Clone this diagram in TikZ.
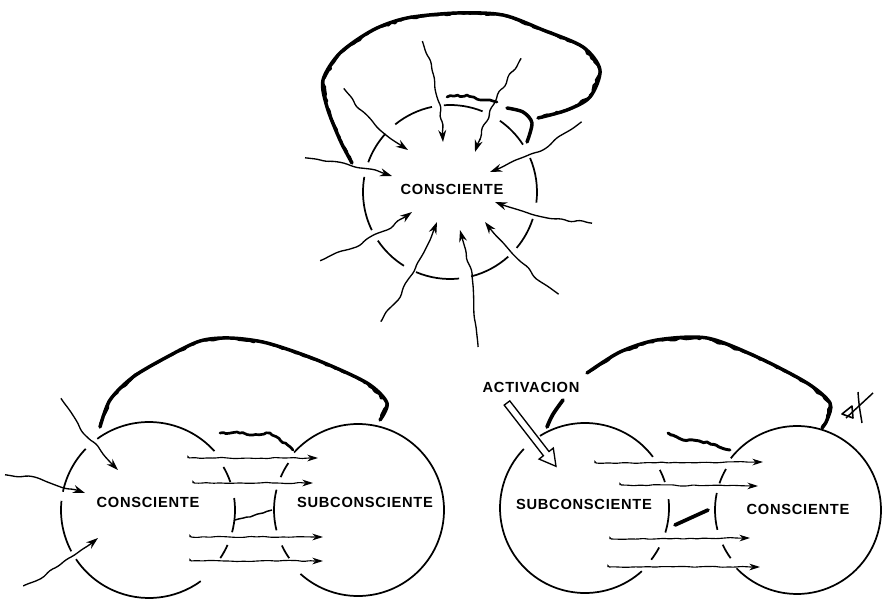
\documentclass[tikz,border=0pt]{standalone}
\usepackage{fontspec}
\setmainfont{Liberation Sans}
\newfontfamily\lblfont[LetterSpace=5]{Liberation Sans}
\usetikzlibrary{arrows.meta,decorations.pathmorphing}

\begin{document}
\begin{tikzpicture}[x=0.75pt,y=0.75pt,yscale=-1,xscale=1,
    lbl/.style={font=\lblfont\bfseries\fontsize{11}{13}\selectfont, inner sep=0pt},
    wavy/.style={line width=1pt, rounded corners=2.5pt, decorate, decoration={random steps, segment length=7pt, amplitude=1.7pt, pre length=1pt, post length=8pt}, -{Stealth[length=9pt,width=6pt]}},
    hline/.style={line width=0.85pt, rounded corners=1pt, decorate, decoration={random steps, segment length=5pt, amplitude=0.45pt, post length=7pt}, -{Stealth[length=8pt,width=5pt]}},
    rope/.style={line width=2.6pt, line cap=round, line join=round},
    rough/.style={line width=1.6pt, line cap=round, line join=round, decorate, decoration={random steps, segment length=2.5pt, amplitude=0.8pt}},
    rim/.style={line width=1.3pt}]
    \pgfmathsetseed{17}
    \useasboundingbox (0,0) rectangle (882,603);

    %centres of the rings
    \coordinate (top) at (450,192);
    \coordinate (lc) at (149,510);
    \coordinate (ls) at (358,510);
    \coordinate (rs) at (585,508);
    \coordinate (rc) at (797,510);

    %Shape: broken ring, top
    \foreach \a/\b in {18/40, 48/76, 84/113, 122/146, 154/190, 200/222, 231/258, 266/292, 305/327, 337/367}
        \draw [rim] (top) ++(\a:87) arc [start angle=\a, end angle=\b, radius=87];
    %Shape: broken rings, bottom left
    \foreach \a/\b in {54/146, 152/186, 192/224, 234/318}
        \draw [rim] (lc) ++(\a:88) arc [start angle=\a, end angle=\b, radius=88];
    \foreach \a/\b in {330/341, 352/375, 24/34}
        \draw [rim] (lc) ++(\a:86) arc [start angle=\a, end angle=\b, radius=86];
    \draw [rim] (ls) ++(222:86) arc [start angle=222, end angle=492, radius=86];
    \foreach \a/\b in {203/214, 166/194, 145/155}
        \draw [rim] (ls) ++(\a:84) arc [start angle=\a, end angle=\b, radius=84];
    %Shape: broken rings, bottom right
    \foreach \a/\b in {48/224, 238/323}
        \draw [rim] (rs) ++(\a:85) arc [start angle=\a, end angle=\b, radius=85];
    \foreach \a/\b in {333/342, 354/377, 28/38}
        \draw [rim] (rs) ++(\a:84) arc [start angle=\a, end angle=\b, radius=84];
    \draw [rim] (rc) ++(218:84) arc [start angle=218, end angle=496, radius=84];
    \foreach \a/\b in {199/210, 166/192, 144/155}
        \draw [rim] (rc) ++(\a:82) arc [start angle=\a, end angle=\b, radius=82];

    % Text Node
    \node [lbl] (tc) at (452,189) {CONSCIENTE};
    \node [lbl] (blc) at (148,502) {CONSCIENTE};
    \node [lbl] (bls) at (365,502) {SUBCONSCIENTE};
    \node [lbl] (brs) at (584,504) {SUBCONSCIENTE};
    \node [lbl] (brc) at (798,509) {CONSCIENTE};
    \node [lbl] (act) at (531,387) {ACTIVACION};

    %Thick loops
    \draw [rope] plot [smooth] coordinates {(352,163) (340,140) (327,107) (323,80) (340,53) (373,30) (407,18) (457,13) (503,15) (543,30) (583,47) (600,70) (590,97) (567,110) (538,118)};
    \draw [rough] (352,163) -- (340,140) -- (327,107) -- (323,80) -- (340,53) -- (373,30) -- (407,18) -- (457,13) -- (503,15) -- (543,30) -- (583,47) -- (600,70) -- (590,97) -- (567,110) -- (538,118);
    \draw [rough, line width=2pt] (447,97) -- (467,95) -- (483,100) -- (497,102);
    \draw [rope] plot [smooth] coordinates {(507,108) (523,112) (532,123) (527,142)};
    \draw [rope] plot [smooth] coordinates {(100,427) (110,400) (133,377) (167,357) (200,341) (230,338) (267,343) (317,360) (367,383) (387,403) (380,420)};
    \draw [rough] (100,427) -- (110,400) -- (133,377) -- (167,357) -- (200,341) -- (230,338) -- (267,343) -- (317,360) -- (367,383) -- (387,403) -- (380,420);
    \draw [rope] plot [smooth] coordinates {(587,373) (620,352) (657,340) (707,338) (757,357) (807,383) (830,403) (827,420) (822,428)};
    \draw [rough] (587,373) -- (620,352) -- (657,340) -- (707,338) -- (757,357) -- (807,383) -- (830,403) -- (827,420) -- (822,428);
    \draw [rough, line width=2pt] (220,433) -- (237,432) -- (253,435) -- (270,433) -- (280,440) -- (293,450);
    \draw [rough, line width=2.2pt] (668,433) -- (683,440) -- (707,442) -- (730,450);
    \draw [line width=2.8pt, line cap=round] (675,525) -- (708,510);
    \draw [line width=2.8pt, line cap=round] (547,427) .. controls (552,415) .. (563,400);

    %Neck lines, bottom left
    \draw [line width=1.1pt, decorate, decoration={random steps, segment length=3pt, amplitude=0.5pt}] (235,520) -- (250,517) -- (263,513) -- (272,510);

    %Arrows into the top ring
    \draw [wavy] (345,90) to [bend left=10] (408,150);
    \draw [wavy] (423,43) to [bend right=8] (443,142);
    \draw [wavy] (520,60) to [bend left=8] (475,152);
    \draw [wavy] (580,123) to [bend right=8] (490,172);
    \draw [wavy] (307,158) to [bend right=6] (392,176);
    \draw [wavy] (590,223) to [bend right=8] (495,202);
    \draw [wavy] (322,260) to [bend left=8] (412,212);
    \draw [wavy] (382,320) to [bend left=8] (437,222);
    \draw [wavy] (478,345) to [bend left=6] (460,230);
    \draw [wavy] (557,293) to [bend right=8] (485,222);

    %Arrows into the bottom left ring
    \draw [wavy] (62,400) to [bend left=6] (118,470);
    \draw [wavy] (7,475) to [bend right=6] (85,493);
    \draw [wavy] (25,585) to [bend left=6] (98,538);

    %Straight Lines across the necks
    \draw [hline] (188,458) -- (318,458);
    \draw [hline] (193,483) -- (313,483);
    \draw [hline] (190,537) -- (323,537);
    \draw [hline] (190,561) -- (323,561);
    \draw [hline] (595,463) -- (763,462);
    \draw [hline] (620,485) -- (758,486);
    \draw [hline] (610,539) -- (750,538);
    \draw [hline] (608,567) -- (760,567);

    %Hollow arrow
    \draw [fill=white, line width=1pt, line join=miter] (504.2,405.1) -- (509.8,400.9) -- (549.0,451.5) -- (553.3,448.1) -- (556,466.3) -- (539.1,459.1) -- (543.4,455.7) -- cycle;

    %Scribble
    \draw [line width=1.1pt] (846,418) -- (873,393);
    \draw [line width=1.2pt, line join=round] (842,414) -- (852,406) -- (853,418) -- cycle;
    \draw [line width=1.1pt] (858,392) .. controls (859,405) .. (862,423);

\end{tikzpicture}
\end{document}
